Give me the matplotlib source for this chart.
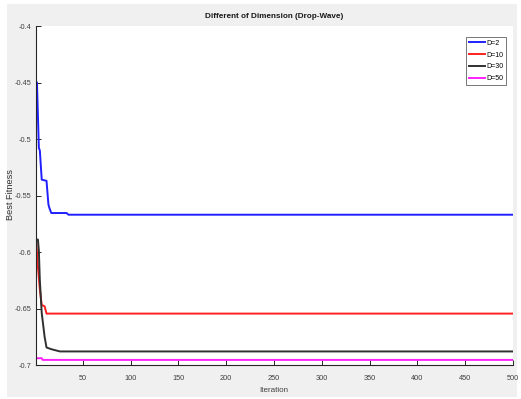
import matplotlib
matplotlib.use("Agg")
import matplotlib.pyplot as plt
from matplotlib.patches import Rectangle

# Convergence curves (iteration, best fitness) for each problem dimension
iter_d2 = [1, 2, 4, 5, 7, 12, 14, 15, 17, 33, 35, 500]
fit_d2 = [-0.449, -0.450, -0.508, -0.510, -0.536, -0.537, -0.558, -0.561, -0.5655, -0.5655, -0.567, -0.567]

iter_d10 = [1, 2, 3, 5, 7, 10, 12, 500]
fit_d10 = [-0.588, -0.600, -0.613, -0.633, -0.647, -0.648, -0.6545, -0.6545]

iter_d30 = [1, 3, 4, 5, 7, 10, 12, 17, 26, 500]
fit_d30 = [-0.589, -0.589, -0.599, -0.625, -0.654, -0.675, -0.6845, -0.686, -0.688, -0.688]

iter_d50 = [1, 7, 8, 500]
fit_d50 = [-0.694, -0.694, -0.6955, -0.6955]

labels = ["D=2", "D=10", "D=30", "D=50"]
colors = ["#2020ff", "#ff2020", "#303030", "#ff20ff"]

x_ticks = [50, 100, 150, 200, 250, 300, 350, 400, 450, 500]
y_ticks = [-0.7, -0.65, -0.6, -0.55, -0.5, -0.45, -0.4]

FONT = ["Liberation Sans", "DejaVu Sans"]

W, H = 521, 399
fig = plt.figure(figsize=(W / 100, H / 100), dpi=100, facecolor="white")
fig.patches.append(Rectangle((7 / W, 1 - 397 / H), 510 / W, 393 / H,
                             transform=fig.transFigure, facecolor="#f0f0f0",
                             edgecolor="none", zorder=-10))

ax = fig.add_axes([36 / W, 1 - 365 / H, 477 / W, 339 / H])
ax.set_facecolor("white")

series = [(iter_d2, fit_d2), (iter_d10, fit_d10), (iter_d30, fit_d30), (iter_d50, fit_d50)]
for (xs, ys), lab, col in zip(series, labels, colors):
    ax.plot(xs, ys, color=col, lw=1.4, label=lab)

ax.set_xlim(1, 500)
ax.set_ylim(-0.7, -0.4)
ax.set_xticks(x_ticks)
ax.set_yticks(y_ticks)
ax.set_yticklabels([f"{v:g}" for v in y_ticks])

for side in ("top", "right"):
    ax.spines[side].set_visible(False)
for side in ("left", "bottom"):
    ax.spines[side].set_color("#262626")
    ax.spines[side].set_linewidth(0.8)

ax.tick_params(direction="in", length=3.5, width=0.7, color="#262626",
               labelsize=5.3, labelcolor="#404040")
ax.tick_params(axis="x", pad=7)
ax.tick_params(axis="y", pad=3.5)
for lbl in ax.get_xticklabels() + ax.get_yticklabels():
    lbl.set_family(FONT)

ax.set_title("Different of Dimension (Drop-Wave)", fontsize=5.9, fontweight="bold",
             family=FONT, color="#1a1a1a", pad=6)
fig.text(274 / W, 1 - 391 / H, "Iteration", ha="center", va="center",
         fontsize=5.8, family=FONT, color="#404040")
fig.text(11 / W, 1 - 195 / H, "Best Fitness", rotation=90, ha="center", va="center",
         fontsize=6.6, family=FONT, color="#333333")

leg = ax.legend(loc="upper right", bbox_to_anchor=(0.99, 0.975),
                prop={"family": FONT, "size": 5},
                frameon=True, fancybox=False, handlelength=2.2, handletextpad=0.2,
                borderpad=0.45, labelspacing=0.7, borderaxespad=0.3)
leg.get_frame().set_edgecolor("#555555")
leg.get_frame().set_linewidth(0.7)

fig.savefig("out.png", dpi=100, facecolor=fig.get_facecolor())
